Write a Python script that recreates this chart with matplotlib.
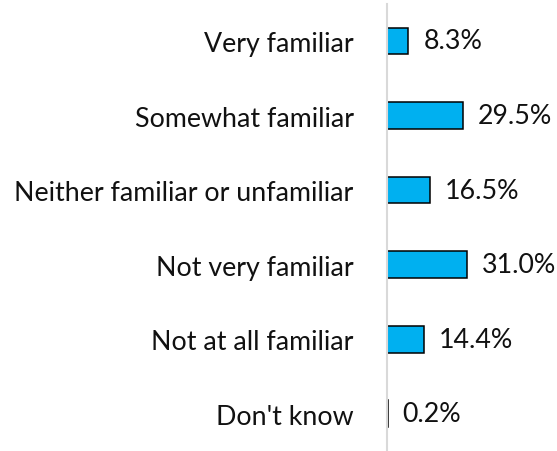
import numpy as np
import matplotlib.pyplot as plt

categories = ['Very familiar', 'Somewhat familiar', 'Neither familiar or unfamiliar',
              'Not very familiar', 'Not at all familiar', "Don't know"]
values = [8.3, 29.5, 16.5, 31.0, 14.4, 0.2]

plt.rcParams['font.family'] = ['Lato', 'DejaVu Sans']

fig = plt.figure(figsize=(5.57, 4.52), dpi=100)
ax = fig.add_axes([387/557, 0.0, 1 - 387/557, 1 - 4.7/452])

y = np.arange(len(categories))
ax.barh(y, values, height=0.36, color='#00B0F0', edgecolor='black', linewidth=1.1)

# value labels just past the end of each bar
for yi, v in zip(y, values):
    ax.annotate('%.1f%%' % v, xy=(v, yi), xytext=(10.8, 0), textcoords='offset points',
                va='center', ha='left', fontsize=19.3, color='#111111')

ax.set_yticks(y)
ax.set_yticklabels(categories, fontsize=19.3, color='#111111')
ax.tick_params(axis='y', length=0, pad=24)
ax.set_xticks([])
ax.set_xlim(0, 170/2.58)
ax.set_ylim(len(categories) - 0.5, -0.5)

for s in ['top', 'right', 'bottom']:
    ax.spines[s].set_visible(False)
ax.spines['left'].set_color('#d9d9d9')
ax.spines['left'].set_linewidth(1.5)

fig.savefig('out.png', dpi=100)
